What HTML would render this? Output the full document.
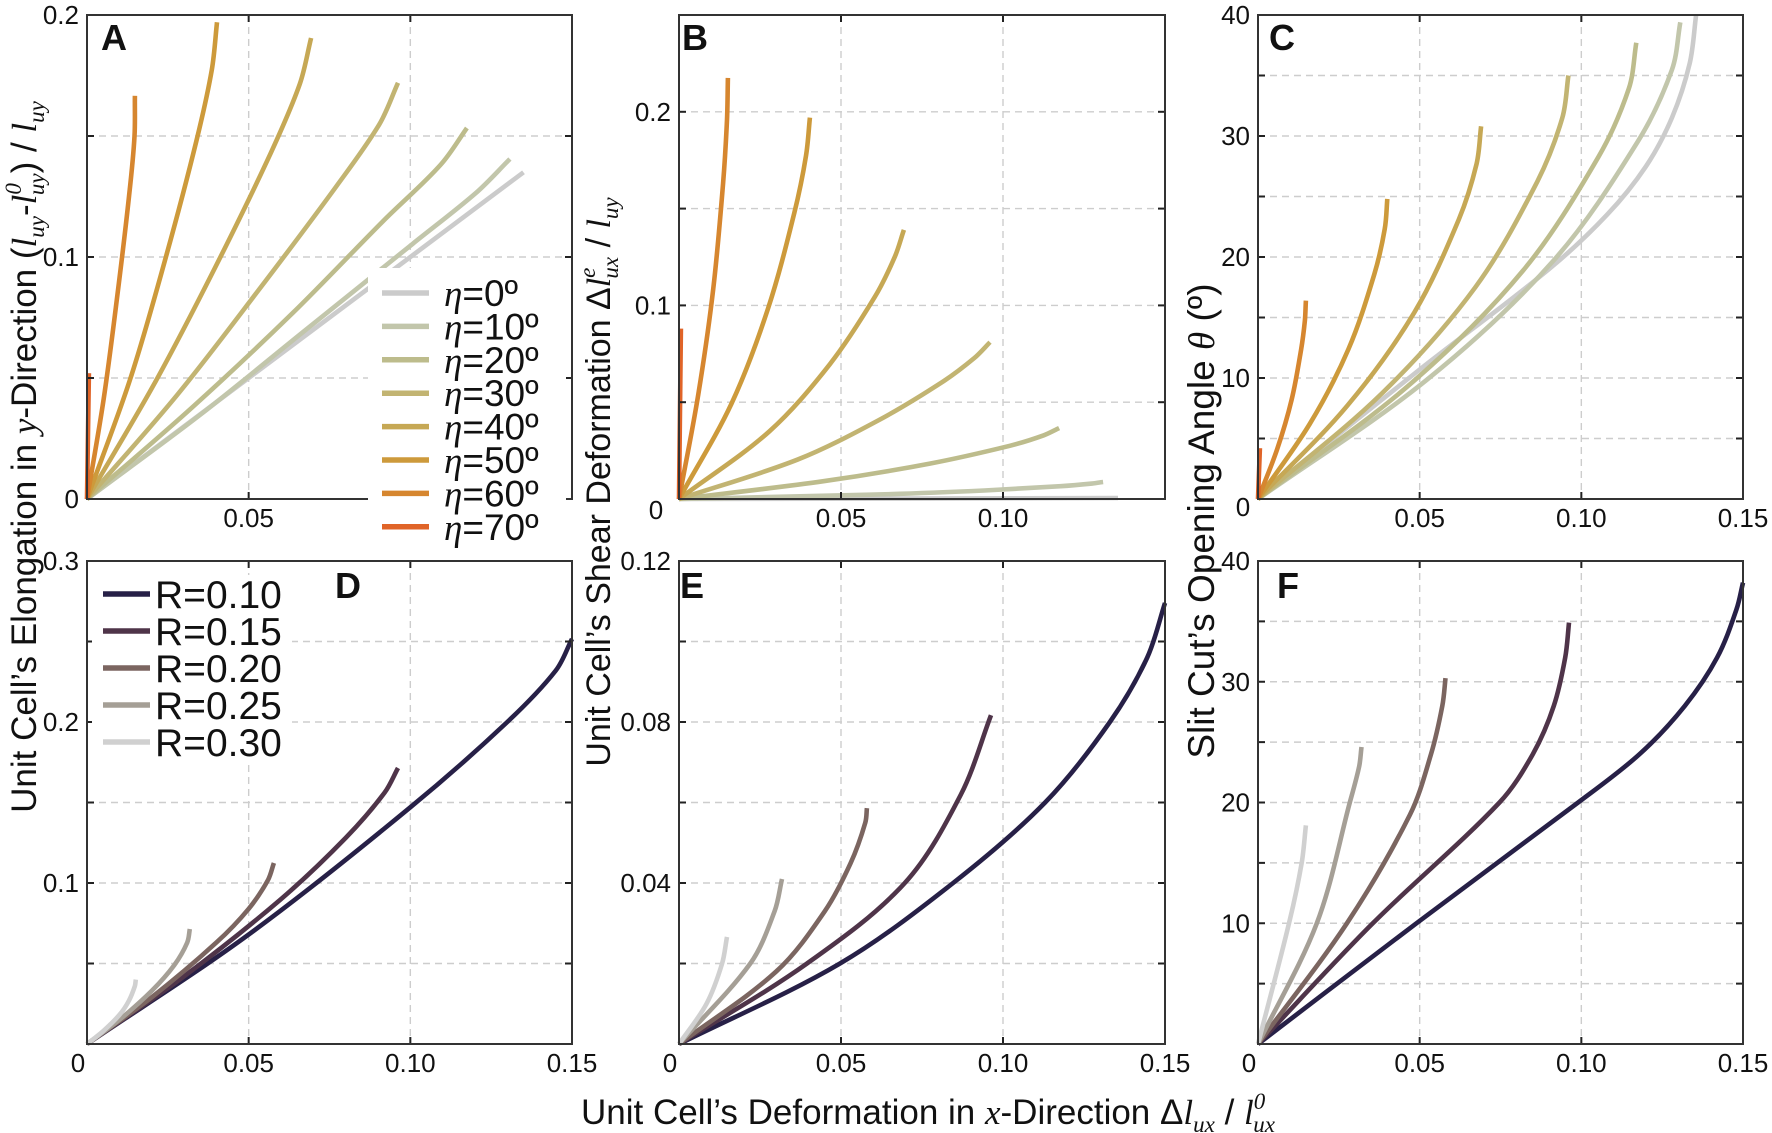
<!DOCTYPE html>
<html><head><meta charset="utf-8">
<style>
html,body{margin:0;padding:0;background:#fff;}
svg{display:block;}
text{font-family:"Liberation Sans",sans-serif;fill:#111;}
.tick{font-size:26px;}
.ser{font-family:"Liberation Serif",serif;font-style:italic;}
</style></head>
<body>
<svg id="fig" width="1772" height="1133" viewBox="0 0 1772 1133" xmlns="http://www.w3.org/2000/svg">
<g id="grids"></g>
<g id="curves"></g>
<g id="frames"></g>
<g id="labels"></g>
<g id="legends"></g>

<text transform="translate(36,457) rotate(-90)" text-anchor="middle" font-size="35">Unit Cell’s Elongation in <tspan class="ser">y</tspan>-Direction (<tspan class="ser">l</tspan><tspan class="ser" font-size="23" dy="8">uy</tspan><tspan dy="-8">-</tspan><tspan class="ser">l</tspan><tspan class="ser" font-size="23" dy="-15">0</tspan><tspan class="ser" font-size="23" dx="-12" dy="23">uy</tspan><tspan dy="-8">) / </tspan><tspan class="ser">l</tspan><tspan class="ser" font-size="23" dy="8">uy</tspan></text>

<text transform="translate(610,482) rotate(-90)" text-anchor="middle" font-size="34">Unit Cell’s Shear Deformation Δ<tspan class="ser">l</tspan><tspan class="ser" font-size="23" dy="-15">e</tspan><tspan class="ser" font-size="23" dx="-11" dy="23">ux</tspan><tspan dy="-8"> / </tspan><tspan class="ser">l</tspan><tspan class="ser" font-size="23" dy="8">uy</tspan></text>

<text transform="translate(1214,521) rotate(-90)" text-anchor="middle" font-size="37">Slit Cut’s Opening Angle <tspan class="ser">θ</tspan> (º)</text>

<text x="928" y="1124" text-anchor="middle" font-size="35">Unit Cell’s Deformation in <tspan class="ser">x</tspan>-Direction Δ<tspan class="ser">l</tspan><tspan class="ser" font-size="23" dy="8">ux</tspan><tspan dy="-8"> / </tspan><tspan class="ser">l</tspan><tspan class="ser" font-size="23" dy="-15">0</tspan><tspan class="ser" font-size="23" dx="-12" dy="23">ux</tspan></text>

<text x="101" y="50" font-size="36" font-weight="bold">A</text>
<text x="682" y="50" font-size="36" font-weight="bold">B</text>
<text x="1269" y="50" font-size="36" font-weight="bold">C</text>
<text x="335" y="598" font-size="36" font-weight="bold">D</text>
<text x="680" y="598" font-size="36" font-weight="bold">E</text>
<text x="1277" y="598" font-size="36" font-weight="bold">F</text>
</svg>

<script>
// ---------- data ----------
const etaLabels = ["0","10","20","30","40","50","60","70"];
const rLabels = ["0.10","0.15","0.20","0.25","0.30"];

const aX = [[0,0.135],[0,.0353,.0680,.1007,.1203,.1308],[0,.0329,.0635,.0917,.1093,.1175],[0,.0279,.0529,.0770,.0904,.0962],[0,.0208,.0395,.0568,.0658,.0693],[0,.0133,.0241,.0338,.0386,.0402],[0,.0052,.0093,.0130,.0147,.0148],[0,.0006]];
const aY = [[0,.135],[0,.0351,.0703,.1054,.1265,.1405],[0,.0383,.0767,.1150,.1380,.1533],[0,.043,.086,.129,.1548,.172],[0,.0476,.0953,.1429,.1715,.1905],[0,.0493,.0985,.1478,.1773,.197],[0,.0417,.0833,.125,.1499,.1666],[0,.052]];

const bX = [[0,0.1355],[0,.0589,.0942,.1178,.1270,.1309],[0,.0446,.0774,.1021,.1126,.1173],[0,.0365,.0614,.0816,.0912,.096],[0,.0278,.0465,.0604,.0666,.0694],[0,.0162,.0275,.0356,.0392,.0404],[0,.0060,.0106,.0136,.0148,.0151],[0,.0006]];
const bY = [[0,0.0005],[0,.0022,.0044,.0066,.0079,.0088],[0,.0092,.0183,.0275,.0329,.0366],[0,.0203,.0405,.0608,.0729,.081],[0,.0348,.0695,.1043,.1251,.139],[0,.0493,.0985,.1478,.1773,.197],[0,.0544,.1088,.1631,.1958,.2175],[0,.088]];

const cX = [[0,.05,.09,.108,.12,.128,.1335,.1355],[0,.0522,.0914,.1175,.1280,.1306],[0,.0468,.0819,.1053,.1147,.117],[0,.0384,.0672,.0864,.0941,.096],[0,.0276,.0483,.0621,.0676,.069],[0,.016,.028,.036,.0392,.040],[0,.0059,.0104,.0133,.0145,.0148],[0,.0006]];
const cY = [[0,10.7,19,23.5,27.5,31.5,36,40],[0,9.85,19.7,29.55,35.46,39.4],[0,9.43,18.85,28.28,33.93,37.7],[0,8.75,17.5,26.25,31.5,35],[0,7.7,15.4,23.1,27.7,30.8],[0,6.2,12.4,18.6,22.3,24.8],[0,4.1,8.2,12.3,14.76,16.4],[0,4.2]];

const dX = [[0,.05,.1,.13,.145,.15],[0,.03,.06,.08,.092,.0962],[0,.02,.04,.05,.056,.0578],[0,.01,.02,.027,.031,.0318],[0,.005,.01,.013,.0148,.0151]];
const dY = [[0,.068,.147,.2,.232,.2516],[0,.042,.09,.128,.156,.1714],[0,.029,.063,.084,.102,.1124],[0,.015,.033,.049,.063,.0714],[0,.008,.018,.027,.036,.040]];

const eX = [[0,.0497,.0846,.113,.133,.1445,.15],[0,.0395,.0697,.087,.0963],[0,.03,.045,.053,.0575,.058],[0,.022,.0295,.0318],[0,.0085,.0133,.0148]];
const eY = [[0,.02,.04,.06,.08,.096,.1096],[0,.02,.04,.062,.0817],[0,.018,.033,.045,.055,.0586],[0,.02,.033,.041],[0,.01,.02,.0266]];

const fX = [[0,.049,.099,.118,.132,.142,.148,.15],[0,.0355,.0747,.085,.0915,.095,.0962],[0,.0275,.047,.0535,.057,.058],[0,.0182,.0284,.0313,.032],[0,.0096,.0135,.0148]];
const fY = [[0,10,20,24,28,32,36,38.2],[0,10,20,24,28,32,34.9],[0,10,19,24,28,30.3],[0,10,20,23,24.6],[0,10,15,18.1]];

const xTicksA = [0.05], xTicksB = [0.05,0.10], xTicksC = [0.05,0.10,0.15], xTicksBottom = [0,0.05,0.10,0.15];
const yTicksA = [0,0.1,0.2], yTicksB = [0.1,0.2], yTicksC = [10,20,30,40];
const yTicksD = [0.1,0.2,0.3], yTicksE = [0.04,0.08,0.12], yTicksF = [10,20,30,40];

// ---------- style ----------
const etaColors = ["#cbcbcb","#c2c6ab","#bdbc8c","#c2b472","#c6a855","#cd9a3b","#d6862f","#e06428"];
const rColors = ["#272047","#4f3449","#7b6560","#a59f96","#d0d0d0"];
const NS = "http://www.w3.org/2000/svg";
function mk(parent, tag, attrs){ const el=document.createElementNS(NS,tag); for(const k in attrs) el.setAttribute(k,attrs[k]); parent.appendChild(el); return el; }

const panels = {
  A:{l:87,t:15,r:572,b:499,ymax:0.2,ystep:0.05,X:aX,Y:aY,colors:etaColors,xt:xTicksA,yt:yTicksA,yfmt:v=>v===0?"0":v.toFixed(1),xfmt:v=>v.toFixed(2)},
  B:{l:679,t:15,r:1165,b:499,ymax:0.25,ystep:0.05,X:bX,Y:bY,colors:etaColors,xt:xTicksB,yt:yTicksB,yfmt:v=>v.toFixed(1),xfmt:v=>v.toFixed(2)},
  C:{l:1258,t:15,r:1743,b:499,ymax:40,ystep:5,X:cX,Y:cY,colors:etaColors,xt:xTicksC,yt:yTicksC,yfmt:v=>String(v),xfmt:v=>v.toFixed(2)},
  D:{l:87,t:561,r:572,b:1044,ymax:0.3,ystep:0.05,X:dX,Y:dY,colors:rColors,xt:xTicksBottom,yt:yTicksD,yfmt:v=>v.toFixed(1),xfmt:v=>v===0?"0":v.toFixed(2)},
  E:{l:679,t:561,r:1165,b:1044,ymax:0.12,ystep:0.02,X:eX,Y:eY,colors:rColors,xt:xTicksBottom,yt:yTicksE,yfmt:v=>v.toFixed(2),xfmt:v=>v===0?"0":v.toFixed(2)},
  F:{l:1258,t:561,r:1743,b:1044,ymax:40,ystep:5,X:fX,Y:fY,colors:rColors,xt:xTicksBottom,yt:yTicksF,yfmt:v=>String(v),xfmt:v=>v===0?"0":v.toFixed(2)}
};

function smoothPath(pts){
  const dist=(a,b)=>Math.hypot(b[0]-a[0],b[1]-a[1])||1e-6;
  let d="M"+pts[0][0].toFixed(1)+","+pts[0][1].toFixed(1);
  for(let i=0;i<pts.length-1;i++){
    const p0=pts[i-1]||pts[i], p1=pts[i], p2=pts[i+1], p3=pts[i+2]||pts[i+1];
    const L=dist(p1,p2);
    const n1=dist(p0,p2), n2=dist(p1,p3);
    const c1=[p1[0]+(p2[0]-p0[0])/n1*L/3, p1[1]+(p2[1]-p0[1])/n1*L/3];
    const c2=[p2[0]-(p3[0]-p1[0])/n2*L/3, p2[1]-(p3[1]-p1[1])/n2*L/3];
    d+=" C"+c1[0].toFixed(1)+","+c1[1].toFixed(1)+" "+c2[0].toFixed(1)+","+c2[1].toFixed(1)+" "+p2[0].toFixed(1)+","+p2[1].toFixed(1);
  }
  return d;
}

const gG=document.getElementById("grids"), gC=document.getElementById("curves"), gF=document.getElementById("frames"), gL=document.getElementById("labels"), gLeg=document.getElementById("legends");

for(const key in panels){
  const p=panels[key];
  const sx=v=>p.l+v/0.15*(p.r-p.l);
  const sy=v=>p.b-v/p.ymax*(p.b-p.t);
  for(const gx of [0.05,0.10]){
    const ln=mk(gG,"line",{x1:sx(gx),x2:sx(gx),y1:p.t,y2:p.b,stroke:"#cdcdcd","stroke-width":1.4,"stroke-dasharray":"7,5"});
    
    
  }
  const nY=Math.round(p.ymax/p.ystep);
  for(let i=1;i<nY;i++){
    const yy=sy(i*p.ystep);
    const ln=mk(gG,"line",{x1:p.l,x2:p.r,y1:yy,y2:yy,stroke:"#cdcdcd","stroke-width":1.4,"stroke-dasharray":"7,5"});
    
    
    const t1=mk(gF,"line",{x1:p.l,x2:p.l+7,y1:yy,y2:yy,stroke:"#222","stroke-width":2});
    
    
    const t2=mk(gF,"line",{x1:p.r-7,x2:p.r,y1:yy,y2:yy,stroke:"#222","stroke-width":2});
    
    
  }
  for(const gx of [0.05,0.10]){
    const t1=mk(gF,"line",{x1:sx(gx),x2:sx(gx),y1:p.t,y2:p.t+7,stroke:"#222","stroke-width":2});
    
    
    const t2=mk(gF,"line",{x1:sx(gx),x2:sx(gx),y1:p.b-7,y2:p.b,stroke:"#222","stroke-width":2});
    
    
  }
  for(let s=0;s<p.X.length;s++){
    const pts=p.X[s].map((xv,i)=>[sx(xv),sy(p.Y[s][i])]);
    const path=mk(gC,"path",{d:smoothPath(pts),fill:"none",stroke:p.colors[s],"stroke-width":4.6,"stroke-linejoin":"round"});
    
    
  }
  const fr=mk(gF,"rect",{x:p.l,y:p.t,width:p.r-p.l,height:p.b-p.t,fill:"none",stroke:"#333","stroke-width":2});
  
  
  for(const v of p.yt){
    const t=mk(gL,"text",{x:p.l-8,y:sy(v)+9,"text-anchor":"end","class":"tick"});
    t.textContent=p.yfmt(v);
    
    
  }
  for(const v of p.xt){
    const t=mk(gL,"text",{x:v===0?sx(v)-9:sx(v),y:p.b+28,"text-anchor":"middle","class":"tick"});
    t.textContent=p.xfmt(v);
    
    
  }
}
for(const [cx,cy] of [[656,519],[1243,516]]){
  const t=mk(gL,"text",{x:cx,y:cy,"text-anchor":"middle","class":"tick"});
  t.textContent="0";
  
  
}

const bgA=mk(gLeg,"rect",{x:368,y:268,width:198,height:280,fill:"#fff"});


for(let i=0;i<etaLabels.length;i++){
  const y=293+i*33.4;
  const ln=mk(gLeg,"line",{x1:382,x2:429,y1:y,y2:y,stroke:etaColors[i],"stroke-width":5.5});
  
  
  const t=mk(gLeg,"text",{x:444,y:y+13,"font-size":37});
  
  
  const e=mk(t,"tspan",{"class":"ser"}); e.textContent="η";
  const r=mk(t,"tspan",{}); r.textContent="="+etaLabels[i]+"º";
}
const bgD=mk(gLeg,"rect",{x:92,y:575,width:200,height:186,fill:"#fff"});


for(let i=0;i<rLabels.length;i++){
  const y=594+i*37;
  const ln=mk(gLeg,"line",{x1:103,x2:150,y1:y,y2:y,stroke:rColors[i],"stroke-width":5.5});
  
  
  const t=mk(gLeg,"text",{x:155,y:y+14,"font-size":39});
  t.textContent="R="+rLabels[i];
  
  
}
</script>
</body></html>
